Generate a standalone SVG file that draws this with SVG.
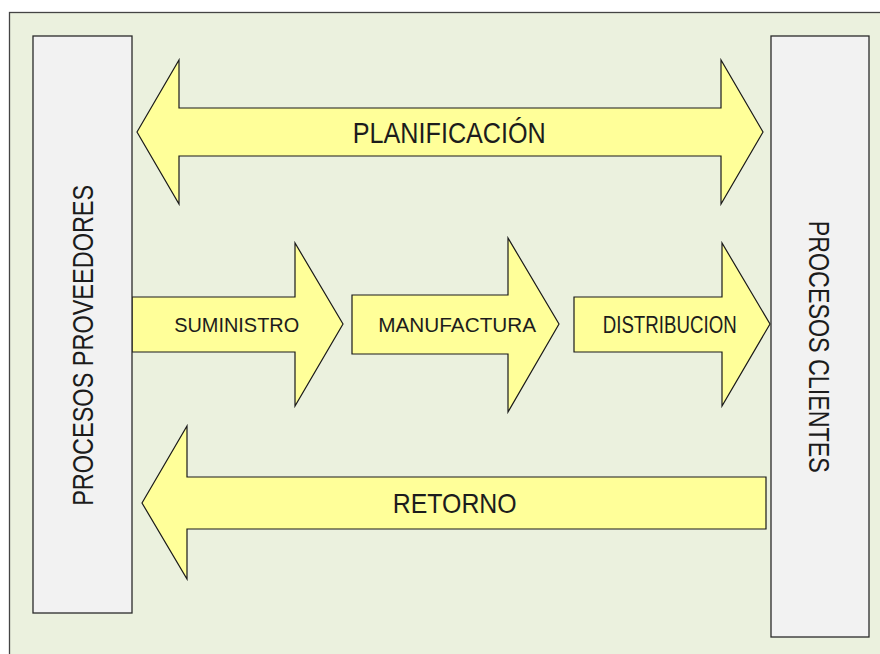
<svg xmlns="http://www.w3.org/2000/svg" width="880" height="654" viewBox="0 0 880 654">
  <style>
    .arrow { fill: #FFFF99; stroke: #1a1a1a; stroke-width: 1.2; stroke-linejoin: miter; }
    .box { fill: #F2F2F2; stroke: #2a2a2a; stroke-width: 1.3; }
    .lbl { font-family: "Liberation Sans", Arial, sans-serif; fill: #1c1c1c; text-anchor: middle; }
  </style>
  <rect x="0" y="0" width="880" height="654" fill="#FFFFFF"/>
  <rect x="9.5" y="12.5" width="880" height="660" fill="#EBF1DE" stroke="#444444" stroke-width="1.3"/>

  <g id="connectors">
    <g id="planificacion">
      <path class="arrow" d="M137,132 L179,60 L179,108 L721,108 L721,60 L763,132 L721,204 L721,156 L179,156 L179,204 Z"/>
      <text class="lbl" x="449.3" y="142.7" font-size="29" textLength="193" lengthAdjust="spacingAndGlyphs">PLANIFICACIÓN</text>
    </g>
    <g id="suministro">
      <path class="arrow" d="M132,297 L295,297 L295,243 L343,324 L295,406 L295,352 L132,352 Z"/>
      <text class="lbl" x="236.7" y="331.7" font-size="20" textLength="125" lengthAdjust="spacingAndGlyphs">SUMINISTRO</text>
    </g>
    <g id="manufactura">
      <path class="arrow" d="M352,295 L508,295 L508,238 L559,324 L508,412 L508,354 L352,354 Z"/>
      <text class="lbl" x="457.2" y="331.7" font-size="20" textLength="158" lengthAdjust="spacingAndGlyphs">MANUFACTURA</text>
    </g>
    <g id="distribucion">
      <path class="arrow" d="M574,297 L722,297 L722,243 L770,324 L722,406 L722,352 L574,352 Z"/>
      <text class="lbl" x="669.7" y="333" font-size="23" textLength="134" lengthAdjust="spacingAndGlyphs">DISTRIBUCION</text>
    </g>
    <g id="retorno">
      <path class="arrow" d="M142,503 L187,426 L187,477 L766,477 L766,529 L187,529 L187,579 Z"/>
      <text class="lbl" x="454.7" y="512.7" font-size="28" textLength="124" lengthAdjust="spacingAndGlyphs">RETORNO</text>
    </g>
  </g>

  <g id="proveedores">
    <rect class="box" x="33" y="36" width="99" height="577"/>
    <text class="lbl" transform="translate(93,345.3) rotate(-90)" x="0" y="0" font-size="29" textLength="321" lengthAdjust="spacingAndGlyphs">PROCESOS PROVEEDORES</text>
  </g>
  <g id="clientes">
    <rect class="box" x="771" y="36" width="98" height="601"/>
    <text class="lbl" transform="translate(809,346.7) rotate(90)" x="0" y="0" font-size="29" textLength="252" lengthAdjust="spacingAndGlyphs">PROCESOS CLIENTES</text>
  </g>
</svg>
